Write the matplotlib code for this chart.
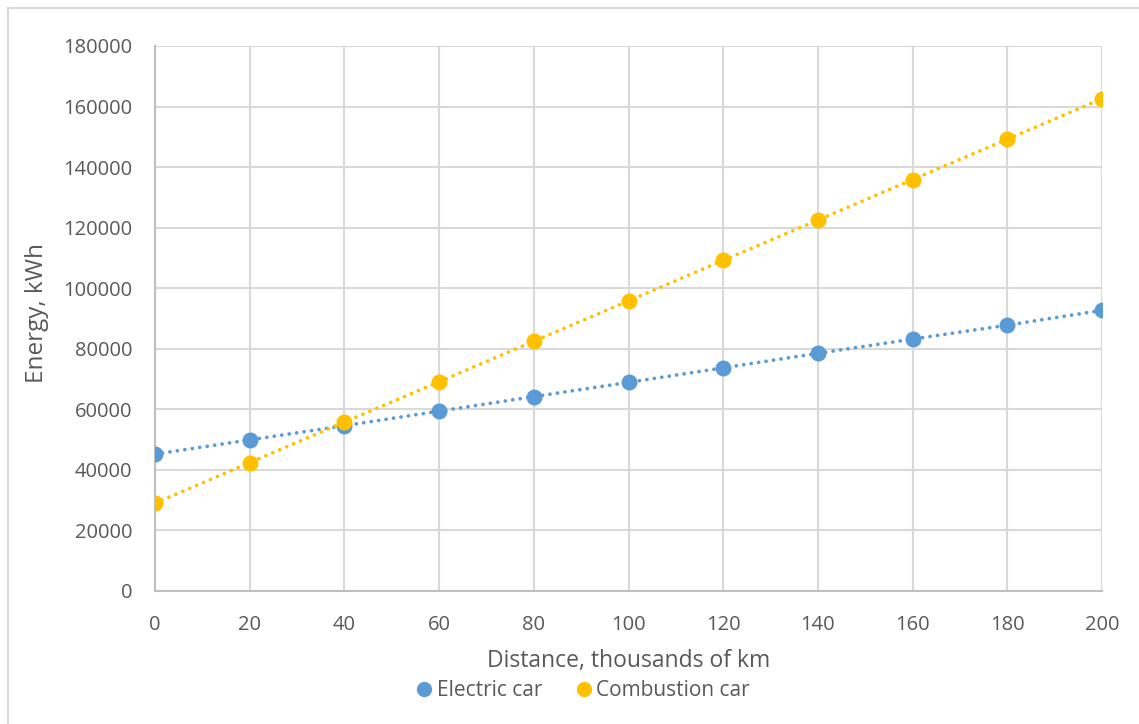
import matplotlib
matplotlib.use("Agg")
import matplotlib.pyplot as plt
from matplotlib.lines import Line2D

distance = [0, 20, 40, 60, 80, 100, 120, 140, 160, 180, 200]
electric = [45200, 49900, 54600, 59400, 64200, 68900, 73700, 78500, 83200, 87800, 92700]
combustion = [29000, 42400, 55800, 69100, 82500, 95800, 109200, 122500, 135900, 149200, 162600]
series_names = ["Electric car", "Combustion car"]
xticks = list(range(0, 201, 20))
yticks = list(range(0, 180001, 20000))

plt.rcParams['font.family'] = ['Open Sans', 'DejaVu Sans']

W, H = 1139, 724
fig = plt.figure(figsize=(W / 100, H / 100), dpi=100)
ax = fig.add_axes([155 / W, 1 - 591 / H, (1102 - 155) / W, (591 - 46) / H])

blue = "#5B9BD5"
gold = "#FFC000"
for y, c, n in [(electric, blue, series_names[0]), (combustion, gold, series_names[1])]:
    ax.plot(distance, y, linestyle=(0, (0.01, 2.0)), dash_capstyle='round', color=c,
            linewidth=2.7, marker='o', markersize=11.5, markeredgewidth=0, label=n, zorder=3)

ax.set_xlim(0, 200)
ax.set_ylim(0, 180000)
ax.set_xticks(xticks)
ax.set_yticks(yticks)
ax.grid(True, color="#D9D9D9", linewidth=1.5, zorder=0)
ax.set_axisbelow(True)
for s in ["top", "right"]:
    ax.spines[s].set_visible(False)
for s in ["left", "bottom"]:
    ax.spines[s].set_color("#BFBFBF")
    ax.spines[s].set_linewidth(1.5)
ax.tick_params(axis='both', length=0, labelsize=14.5, labelcolor="#595959")
ax.tick_params(axis='y', pad=16.5)
ax.tick_params(axis='x', pad=17)

ax.set_xlabel("Distance, thousands of km", fontsize=16.5, color="#595959", va='center')
ax.xaxis.set_label_coords((629 - 155) / 947, (591 - 661) / 545)
ax.set_ylabel("Energy, kWh", fontsize=17.5, color="#595959", va='center', ha='center')
ax.yaxis.set_label_coords((37 - 155) / 947, (591 - 313) / 545)

handles = [Line2D([], [], linestyle='none', marker='o', markersize=11, color=blue, markeredgewidth=0),
           Line2D([], [], linestyle='none', marker='o', markersize=11, color=gold, markeredgewidth=0)]
fig.legend(handles, series_names, loc='center', bbox_to_anchor=(582 / W, 1 - 691 / H),
           ncol=2, frameon=False, fontsize=15, labelcolor="#595959",
           handletextpad=0.1, columnspacing=1.5, handlelength=1.0)

# outer chart border (left and top visible)
fig.add_artist(Line2D([7.5 / W, 7.5 / W], [0, 1 - 7.5 / H], transform=fig.transFigure, color="#D9D9D9", linewidth=1.5))
fig.add_artist(Line2D([7.5 / W, 1], [1 - 7.5 / H, 1 - 7.5 / H], transform=fig.transFigure, color="#D9D9D9", linewidth=1.5))

fig.savefig("out.png", dpi=100, facecolor="white")
